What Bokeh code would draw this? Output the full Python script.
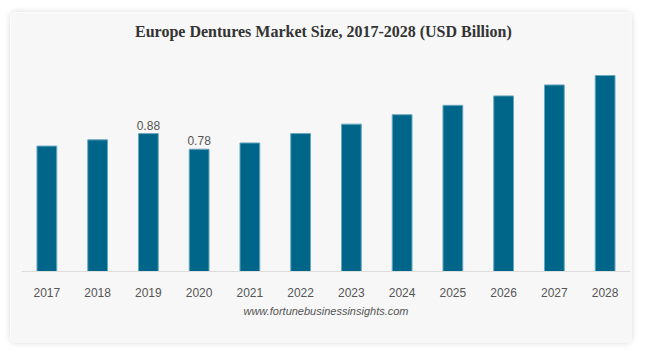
from bokeh.plotting import figure
from bokeh.models import ColumnDataSource, Title, Range1d
from bokeh.core.properties import value
from bokeh.embed import file_html
from bokeh.resources import INLINE

years = ["2017", "2018", "2019", "2020", "2021", "2022", "2023", "2024", "2025", "2026", "2027", "2028"]
sizes = [0.80, 0.84, 0.88, 0.78, 0.82, 0.88, 0.94, 1.00, 1.06, 1.12, 1.19, 1.25]
shown = ["", "", "0.88", "0.78", "", "", "", "", "", "", "", ""]
title_text = "Europe Dentures Market Size, 2017-2028 (USD Billion)"
source_text = "www.fortunebusinessinsights.com"

src = ColumnDataSource(dict(year=years, size=sizes, lab=shown))

p = figure(x_range=years, width=622, height=331, output_backend="svg", toolbar_location=None,
           margin=(12, 0, 0, 10), min_border_left=11, min_border_right=2,
           min_border_bottom=72, min_border_top=0)
p.title.visible = False
p.y_range = Range1d(0, 1.652)
p.border_fill_color = "#f7f7f7"
p.background_fill_color = "#f7f7f7"
p.outline_line_color = None
p.styles = {"border-radius": "6px", "box-shadow": "0 0 6px rgba(0,0,0,0.15)"}

p.vbar(x="year", top="size", width=0.39, source=src, fill_color="#006689", line_color="#6aa8c0", line_width=1)
p.text(x="year", y="size", text="lab", source=src, text_align="center", text_baseline="bottom",
       y_offset=-4, text_font=value("Liberation Sans"), text_font_size="12px", text_color="#555555")

# chart title drawn at the top of the card
p.text(x=["2023"], y=[1.531], text=[title_text], x_offset=-28, text_align="center", text_baseline="middle",
       text_font=value("Liberation Serif"), text_font_size="16px", text_font_style="bold",
       text_color="#333333")

p.yaxis.visible = False
p.xgrid.visible = False
p.ygrid.visible = False
p.xaxis.axis_line_color = "#dddddd"
p.xaxis.major_tick_line_color = None
p.xaxis.minor_tick_line_color = None
p.xaxis.major_label_text_font = "Liberation Sans"
p.xaxis.major_label_text_font_size = "12px"
p.xaxis.major_label_text_color = "#555555"
p.xaxis.major_label_standoff = 10

src_t = Title(text=source_text, align="center", text_font="Liberation Sans",
              text_font_size="11px", text_font_style="italic", text_color="#555555", standoff=6)
p.add_layout(src_t, "below")

open("out.html", "w").write(file_html(p, INLINE))
